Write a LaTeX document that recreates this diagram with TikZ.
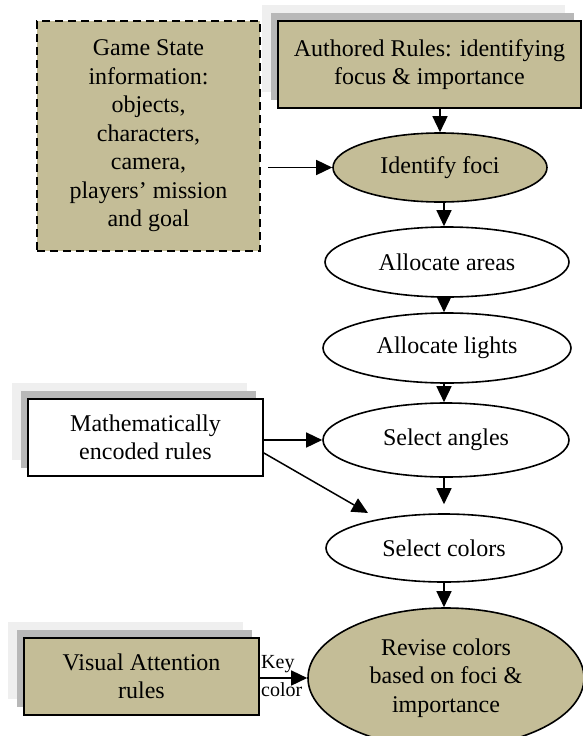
\documentclass[tikz,border=0pt]{standalone}
\usepackage{fontspec}
\setmainfont{Liberation Serif}
\usetikzlibrary{shapes.geometric,shadows,arrows.meta}
\definecolor{tanfill}{HTML}{C4BD97}
\definecolor{shdark}{HTML}{B8B8B8}
\definecolor{shlight}{HTML}{EFEFEF}
\tikzset{
  box/.style={draw, line width=1.8pt, rectangle, inner sep=0pt, align=center, font=\fontsize{24}{28.5}\selectfont},
  shadowed/.style={general shadow={fill=shlight, shadow xshift=-16pt, shadow yshift=16pt},
                   general shadow={fill=shdark, shadow xshift=-7pt, shadow yshift=8pt}},
  oval/.style={ellipse, draw, line width=1.6pt, inner sep=0pt, align=center, font=\fontsize{24}{28.5}\selectfont},
  arr/.style={-{Triangle[length=16pt,width=15pt]}, line width=1.5pt},
  lbl/.style={inner sep=0pt, anchor=west, font=\fontsize{20}{22}\selectfont}
}
\begin{document}
\begin{tikzpicture}[x=1pt,y=-1pt]
\useasboundingbox (0,0) rectangle (583,736);
% rectangles
\node[box, fill=tanfill, dash pattern=on 8pt off 5pt, line width=2.5pt,
      minimum width=223pt, minimum height=230pt] (gs) at (148.5,136)
  {Game State\\information:\\objects,\\characters,\\camera,\\players’ mission\\and goal};
\node[box, shadowed, fill=tanfill, minimum width=303pt, minimum height=87pt] (ar) at (429.5,64.5)
  {Authored Rules: identifying\\focus \& importance};
\node[box, shadowed, fill=white, minimum width=235pt, minimum height=77pt] (ma) at (145.5,437.5)
  {Mathematically\\encoded rules};
\node[box, shadowed, fill=tanfill, minimum width=235pt, minimum height=77pt] (va) at (141.5,676.5)
  {Visual Attention\\rules};
% ellipses
\node[oval, fill=tanfill, minimum width=214pt, minimum height=69pt] (if) at (440,167.5) {Identify foci};
\node[oval, fill=white, minimum width=244pt, minimum height=70pt] (aa) at (447,262) {Allocate areas};
\node[oval, fill=white, minimum width=248pt, minimum height=70pt] (al) at (447,348) {Allocate lights};
\node[oval, fill=white, minimum width=246pt, minimum height=74pt] (sa) at (446,440) {Select angles};
\node[oval, fill=white, minimum width=236pt, minimum height=68pt] (sc) at (444,548) {Select colors};
\node[oval, fill=tanfill, minimum width=276pt, minimum height=140pt] (rv) at (446,678)
  {Revise colors\\based on foci \&\\importance};
% connectors
\draw[arr] (ar.south -| if.north) -- (if.north);
\draw[arr, shorten <=7pt] (gs.east |- if.west) -- (if.west);
\draw[arr] (if.south -| 444,0) -- (444,0 |- aa.north);
\draw[arr] (aa.south -| 444,0) -- (444,0 |- al.north);
\draw[arr] (al.south -| 444,0) -- (444,0 |- sa.north);
\draw[arr, shorten >=9pt] (sa.south -| 444,0) -- (444,0 |- sc.north);
\draw[arr] (sc.south -| 444,0) -- (444,0 |- rv.north);
\draw[arr] (ma.east |- sa.west) -- (sa.west);
\coordinate (dtip) at (368,513);
\draw[arr] ([yshift=-15.5pt]ma.east) -- (dtip);
\draw[arr] (va.east |- rv.west) -- (rv.west);
\node[lbl] (key) at (261,664) {Key};
\node[lbl] (kcol) at (261,690) {color};
\end{tikzpicture}
\end{document}
